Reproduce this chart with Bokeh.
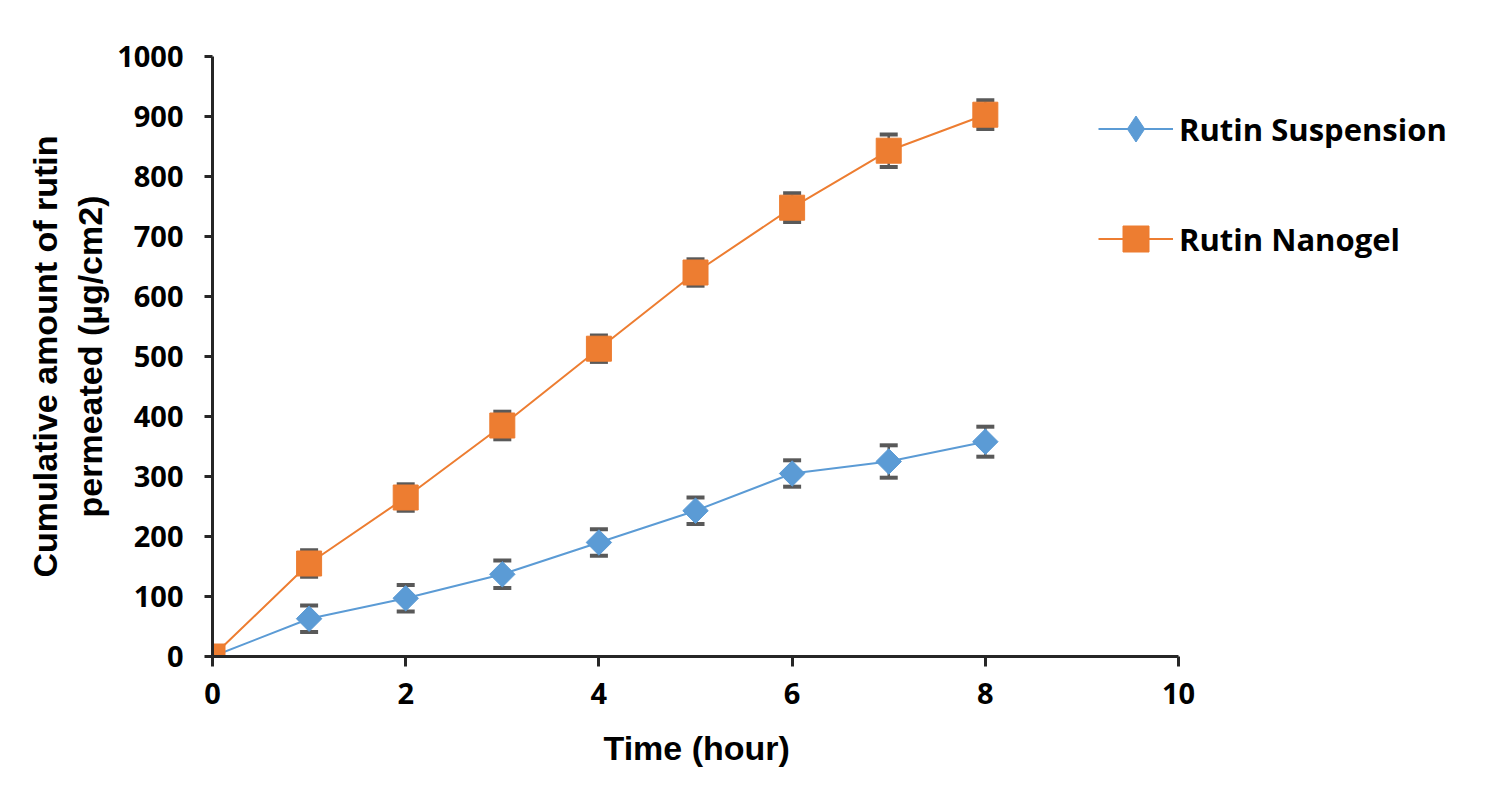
import math
from bokeh.plotting import figure
from bokeh.models import ColumnDataSource, Whisker, TeeHead, Legend, LegendItem, Range1d, FixedTicker, Title
from bokeh.embed import file_html
from bokeh.resources import INLINE

time_h = [0, 1, 2, 3, 4, 5, 6, 7, 8]
suspension = [0, 63, 97, 137, 190, 243, 305, 325, 358]
suspension_err = [0, 22, 22, 23, 22, 22, 22, 27, 25]
nanogel = [0, 155, 265, 385, 513, 640, 748, 843, 903]
nanogel_err = [0, 22, 22, 23, 22, 22, 24, 27, 24]

x_ticks = [0, 2, 4, 6, 8, 10]
y_ticks = [0, 100, 200, 300, 400, 500, 600, 700, 800, 900, 1000]

BLUE = "#5B9BD5"
ORANGE = "#ED7D31"
ERR = "#595959"
AXIS = "#262626"

# frame spans 212..1492 px; 10 hours = 966 px, so the visible end is ~13.25 h
p = figure(width=1492, height=790, output_backend="svg", toolbar_location=None,
           x_range=Range1d(0, 13.25), y_range=Range1d(0, 1000),
           min_border_left=212, min_border_right=0, min_border_top=56, min_border_bottom=134)
p.outline_line_color = None
p.grid.visible = False

def err_source(xs, ys, es):
    xx, lo, hi = [], [], []
    for x, y, e in zip(xs, ys, es):
        if e > 0:
            xx.append(x); lo.append(y - e); hi.append(y + e)
    return ColumnDataSource(dict(x=xx, lower=lo, upper=hi))

for ys, es in ((suspension, suspension_err), (nanogel, nanogel_err)):
    w = Whisker(source=err_source(time_h, ys, es), base="x", lower="lower", upper="upper",
                line_color=ERR, line_width=2.5, level="underlay",
                upper_head=TeeHead(size=18, line_color=ERR, line_width=4),
                lower_head=TeeHead(size=18, line_color=ERR, line_width=4))
    p.add_layout(w)

src_s = ColumnDataSource(dict(x=time_h, y=suspension))
src_n = ColumnDataSource(dict(x=time_h, y=nanogel))

l1 = p.line("x", "y", source=src_s, line_color=BLUE, line_width=2)
# diamond used for the legend key (hidden under the rotated squares)
d1 = p.scatter("x", "y", source=src_s, marker="diamond", size=24,
               fill_color=BLUE, line_color=BLUE)
m1 = p.scatter("x", "y", source=src_s, marker="square", angle=math.pi / 4, size=18,
               fill_color=BLUE, line_color=BLUE)
l2 = p.line("x", "y", source=src_n, line_color=ORANGE, line_width=2)
m2 = p.scatter("x", "y", source=src_n, marker="square", size=25,
               fill_color=ORANGE, line_color=ORANGE)

legend = Legend(items=[LegendItem(label="Rutin Suspension", renderers=[l1, d1]),
                       LegendItem(label="Rutin Nanogel", renderers=[l2, m2])],
                location=(886, 385), orientation="vertical",
                glyph_width=75, glyph_height=65, label_standoff=6, spacing=45,
                padding=0, margin=0, border_line_color=None, background_fill_alpha=0,
                label_text_font="Open Sans", label_text_font_style="bold",
                label_text_font_size="31px", label_text_color="black", label_height=40)
p.add_layout(legend, "center")

p.xaxis.ticker = FixedTicker(ticks=x_ticks)
p.yaxis.ticker = FixedTicker(ticks=y_ticks)
p.xaxis.bounds = (0, 10)
p.axis.minor_tick_line_color = None
p.axis.axis_line_color = AXIS
p.axis.axis_line_width = 3
p.axis.major_tick_line_color = AXIS
p.axis.major_tick_line_width = 3
p.axis.major_tick_in = 0
p.xaxis.major_tick_out = 10
p.yaxis.major_tick_out = 8
p.axis.major_label_text_font = "Open Sans"
p.axis.major_label_text_font_style = "bold"
p.axis.major_label_text_font_size = "29px"
p.axis.major_label_text_color = "black"
p.xaxis.major_label_standoff = 16
p.yaxis.major_label_standoff = 21

p.yaxis.axis_label = "Cumulative amount of rutin\npermeated (µg/cm2)"
p.yaxis.axis_label_text_font = "Liberation Sans"
p.yaxis.axis_label_text_font_style = "bold"
p.yaxis.axis_label_text_font_size = "34px"
p.yaxis.axis_label_text_color = "black"
p.yaxis.axis_label_standoff = 5

xtitle = Title(text="Time (hour)", align="left", offset=391, standoff=40,
               text_font="Liberation Sans", text_font_style="bold",
               text_font_size="34px", text_color="black")
p.add_layout(xtitle, "below")

open("out.html", "w").write(file_html(p, INLINE))
